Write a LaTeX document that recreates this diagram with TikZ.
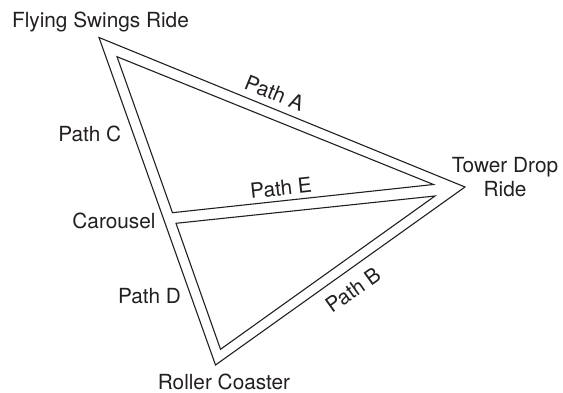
\documentclass[tikz,border=0pt]{standalone}
\usepackage{fontspec}
\setmainfont{TeX Gyre Heros}
\definecolor{ink}{HTML}{231F20}
\begin{document}
\begin{tikzpicture}[x=1pt,y=-1pt,
  road/.style={draw=ink, line width=1.1pt, line join=miter},
  lbl/.style={font=\fontsize{20.8}{24}\selectfont, text=ink, inner sep=0pt}]
\useasboundingbox (0,0) rectangle (563,393);
% outer triangle
\coordinate (F) at (99,37.5);
\coordinate (T) at (465,187);
\coordinate (R) at (215.5,365);
% upper inner triangle
\coordinate (u1) at (117,56.7);
\coordinate (u2) at (433.5,184.5);
\coordinate (u3) at (172.5,212.7);
% lower inner triangle
\coordinate (l1) at (176,223.3);
\coordinate (l2) at (435,196);
\coordinate (l3) at (220.5,349.3);
\draw[road] (F) -- (T) -- (R) -- cycle;
\draw[road] (u1) -- (u2) -- (u3) -- cycle;
\draw[road] (l1) -- (l2) -- (l3) -- cycle;
% labels
\node[lbl, anchor=base] (fsr) at (100.5,27.5) {Flying Swings Ride};
\node[lbl, anchor=north, align=center] (tdr) at (505,157.5) {Tower Drop\\Ride};
\node[lbl, anchor=base] (rc) at (224,389.5) {Roller Coaster};
\node[lbl, anchor=base] (car) at (114,228.5) {Carousel};
\node[lbl, anchor=base] (pc) at (89.7,141.5) {Path C};
\node[lbl, anchor=base] (pd) at (149.5,303.5) {Path D};
\node[lbl, rotate=-22.2] (pa) at (274.5,93) {Path A};
\node[lbl, rotate=6.2] (pe) at (281,188) {Path E};
\node[lbl, rotate=35.5] (pb) at (353,290) {Path B};
\end{tikzpicture}
\end{document}
